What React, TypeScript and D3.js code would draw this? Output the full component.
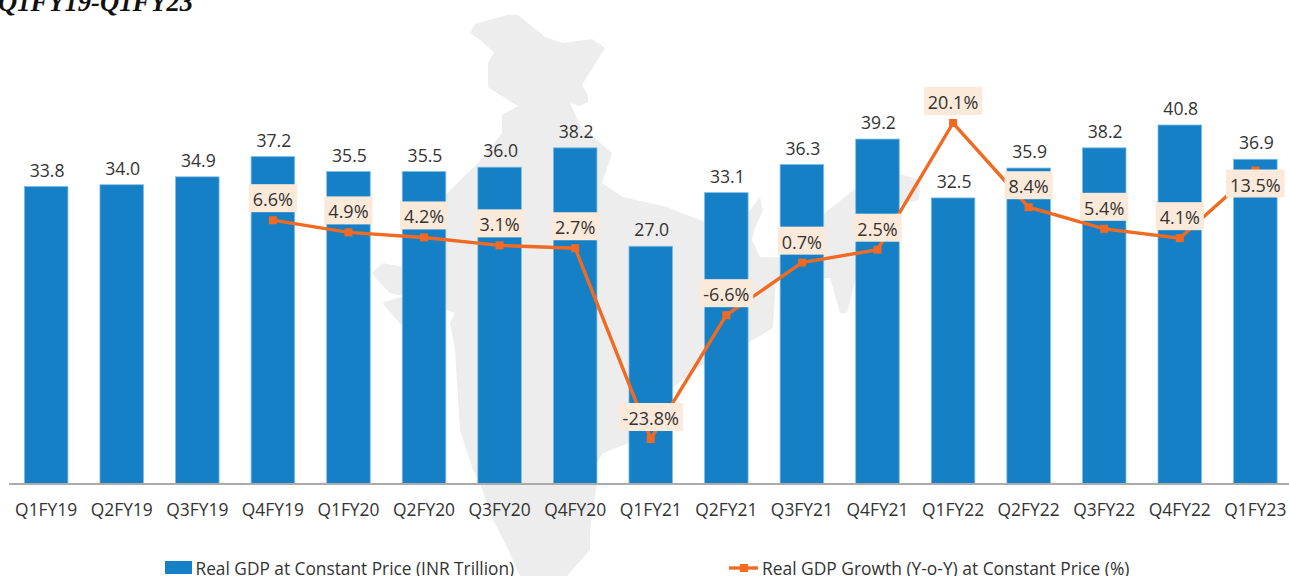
import React, { useEffect, useRef } from "react";
import { line, scaleBand, scaleLinear, select } from "d3";

const WIDTH = 1289;
const HEIGHT = 576;

const quarters = [
  "Q1FY19", "Q2FY19", "Q3FY19", "Q4FY19", "Q1FY20", "Q2FY20", "Q3FY20", "Q4FY20", "Q1FY21",
  "Q2FY21", "Q3FY21", "Q4FY21", "Q1FY22", "Q2FY22", "Q3FY22", "Q4FY22", "Q1FY23",
];
const gdpValues = [33.8, 34.0, 34.9, 37.2, 35.5, 35.5, 36.0, 38.2, 27.0, 33.1, 36.3, 39.2, 32.5, 35.9, 38.2, 40.8, 36.9];
// first three quarters have no y-o-y figure on the chart
const growthValues = [null, null, null, 6.6, 4.9, 4.2, 3.1, 2.7, -23.8, -6.6, 0.7, 2.5, 20.1, 8.4, 5.4, 4.1, 13.5];

const gdpLegend = "Real GDP at Constant Price (INR Trillion)";
const growthLegend = "Real GDP Growth (Y-o-Y) at Constant Price (%)";
const title = "Q1FY19-Q1FY23";

// background silhouette of India (decoration, not data)
const mapOutline: [number, number][] = [
  [470, 33], [475, 24], [507, 15], [518, 15], [545, 37], [563, 43], [592, 39], [605, 48], [582, 85],
  [588, 95], [588, 102], [580, 106], [570, 103], [580, 125], [612, 153], [602, 183], [623, 197],
  [667, 207], [705, 222], [748, 213], [760, 197], [763, 210], [755, 228], [752, 240], [760, 257],
  [800, 258], [810, 225], [860, 185], [893, 172], [920, 180], [919, 200], [893, 205], [860, 240],
  [858, 270], [847, 313], [840, 313], [830, 278], [776, 278], [773, 328], [748, 343], [705, 363],
  [673, 387], [629, 443], [603, 453], [597, 463], [597, 483], [590, 530], [590, 550], [567, 576],
  [520, 576], [507, 547], [493, 520], [480, 483], [473, 470], [460, 430], [455, 350], [450, 323],
  [455, 313], [447, 310], [403, 327], [382, 303], [403, 296], [390, 293], [377, 280], [372, 273],
  [383, 263], [403, 267], [447, 193], [478, 163], [502, 133], [502, 115], [518, 106], [500, 95],
  [488, 87], [488, 63], [494, 52], [480, 40],
];

const FONT = "'Open Sans', sans-serif";
const TEXT_COLOR = "#333333";
const BAR_COLOR = "#1580C6";
const LINE_COLOR = "#F26A21";

export default function App() {
  const svgRef = useRef<SVGSVGElement>(null);

  useEffect(() => {
    const svg = select(svgRef.current);
    svg.selectAll("*").remove();

    svg
      .append("path")
      .attr("d", line()(mapOutline) + "Z")
      .attr("fill", "#EDEDED");

    const x = scaleBand().domain(quarters).range([8.5, 1293]).paddingInner(0.4237).paddingOuter(0.21);
    const yBar = scaleLinear().domain([0, 40.8]).range([483.5, 125]);
    const yGrowth = scaleLinear().domain([-23.8, 20.1]).range([439, 123]);
    const cx = (q: string) => (x(q) as number) + x.bandwidth() / 2;

    svg
      .append("g")
      .selectAll("rect")
      .data(quarters)
      .join("rect")
      .attr("x", (q) => x(q) as number)
      .attr("width", x.bandwidth())
      .attr("y", (_, i) => yBar(gdpValues[i]))
      .attr("height", (_, i) => yBar(0) - yBar(gdpValues[i]))
      .attr("fill", BAR_COLOR)
      .attr("stroke", "#7DBBE6")
      .attr("stroke-width", 0.8);

    svg
      .append("line")
      .attr("x1", 9)
      .attr("x2", WIDTH)
      .attr("y1", 484)
      .attr("y2", 484)
      .attr("stroke", "#ABABAB")
      .attr("stroke-width", 2);

    svg
      .append("g")
      .selectAll("text")
      .data(quarters)
      .join("text")
      .attr("x", (q) => cx(q) + 1)
      .attr("y", (_, i) => yBar(gdpValues[i]) - 10)
      .attr("text-anchor", "middle")
      .attr("font-family", FONT)
      .attr("font-size", 17.6)
      .attr("fill", TEXT_COLOR)
      .text((_, i) => gdpValues[i].toFixed(1));

    svg
      .append("g")
      .selectAll("text")
      .data(quarters)
      .join("text")
      .attr("x", (q) => cx(q))
      .attr("y", 516)
      .attr("text-anchor", "middle")
      .attr("font-family", FONT)
      .attr("font-size", 17.4)
      .attr("fill", TEXT_COLOR)
      .text((q) => q);

    // growth line
    const growthPoints = quarters
      .map((q, i) => ({ q, v: growthValues[i] }))
      .filter((d) => d.v !== null) as { q: string; v: number }[];

    svg
      .append("path")
      .attr("d", line<{ q: string; v: number }>((d) => cx(d.q), (d) => yGrowth(d.v))(growthPoints))
      .attr("fill", "none")
      .attr("stroke", LINE_COLOR)
      .attr("stroke-width", 3.4);

    svg
      .append("g")
      .selectAll("rect")
      .data(growthPoints)
      .join("rect")
      .attr("x", (d) => cx(d.q) - 4)
      .attr("y", (d) => yGrowth(d.v) - 4)
      .attr("width", 8)
      .attr("height", 8)
      .attr("fill", LINE_COLOR);

    // label boxes sit over the line, 13.5% is the one Excel pushed down onto its point
    const labels = svg.append("g").selectAll("g").data(growthPoints).join("g");
    labels.each(function (d) {
      const g = select(this);
      const boxBottom = d.v === 13.5 ? yGrowth(d.v) + 27 : yGrowth(d.v) - 8;
      const rect = g.append("rect").attr("fill", "#FBE9DA");
      const text = g
        .append("text")
        .attr("x", cx(d.q))
        .attr("y", boxBottom - 6)
        .attr("text-anchor", "middle")
        .attr("font-family", FONT)
        .attr("font-size", 18)
        .attr("fill", TEXT_COLOR)
        .text(`${d.v.toFixed(1)}%`);
      const w = (text.node() as SVGTextElement).getComputedTextLength() + 8;
      rect
        .attr("x", cx(d.q) - w / 2)
        .attr("y", boxBottom - 28)
        .attr("width", w)
        .attr("height", 28);
    });

    // title is cut off by the top of the picture
    svg
      .append("text")
      .attr("x", -2)
      .attr("y", 11)
      .attr("font-family", "'Liberation Serif', serif")
      .attr("font-weight", "bold")
      .attr("font-style", "italic")
      .attr("font-size", 26.6)
      .attr("fill", "#111111")
      .text(title);

    // legend
    svg.append("rect").attr("x", 165).attr("y", 561).attr("width", 27).attr("height", 13).attr("fill", BAR_COLOR);
    svg
      .append("text")
      .attr("x", 195.5)
      .attr("y", 574.5)
      .attr("font-family", FONT)
      .attr("font-size", 17.3)
      .attr("fill", TEXT_COLOR)
      .text(gdpLegend);
    svg
      .append("line")
      .attr("x1", 729)
      .attr("x2", 758)
      .attr("y1", 568)
      .attr("y2", 568)
      .attr("stroke", LINE_COLOR)
      .attr("stroke-width", 3.4);
    svg.append("rect").attr("x", 740).attr("y", 564).attr("width", 8).attr("height", 8).attr("fill", LINE_COLOR);
    svg
      .append("text")
      .attr("x", 762)
      .attr("y", 574.5)
      .attr("font-family", FONT)
      .attr("font-size", 17.4)
      .attr("fill", TEXT_COLOR)
      .text(growthLegend);
  }, []);

  return (
    <svg
      ref={svgRef}
      width={WIDTH}
      height={HEIGHT}
      style={{ position: "absolute", left: 0, top: 0, display: "block", background: "#fff" }}
    />
  );
}
